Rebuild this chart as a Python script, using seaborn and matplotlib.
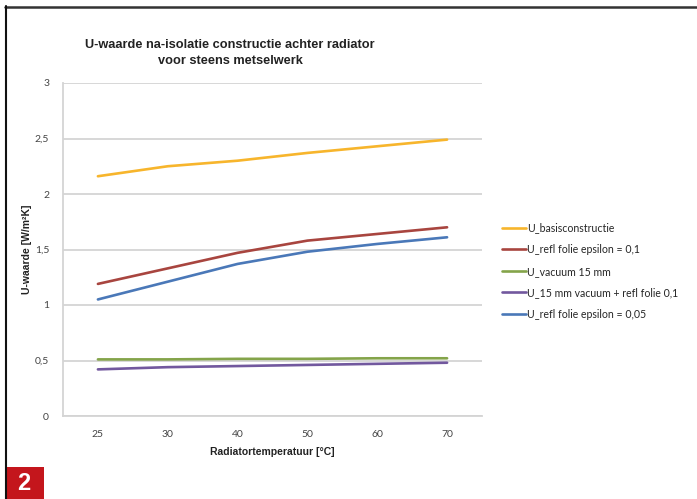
import matplotlib
matplotlib.use("Agg")
import matplotlib.pyplot as plt
from matplotlib.lines import Line2D
from matplotlib.patches import Rectangle
import seaborn as sns
import pandas as pd

temperatures = ["25", "30", "40", "50", "60", "70"]
u_basis = [2.16, 2.25, 2.30, 2.37, 2.43, 2.49]
u_refl_01 = [1.19, 1.33, 1.47, 1.58, 1.64, 1.70]
u_vacuum_15 = [0.51, 0.51, 0.515, 0.515, 0.52, 0.52]
u_vacuum_refl = [0.42, 0.44, 0.45, 0.46, 0.47, 0.48]
u_refl_005 = [1.05, 1.21, 1.37, 1.48, 1.55, 1.61]

series_names = [
    "U_basisconstructie",
    "U_refl folie epsilon = 0,1",
    "U_vacuum 15 mm",
    "U_15 mm vacuum + refl folie 0,1",
    "U_refl folie epsilon = 0,05",
]
series_values = [u_basis, u_refl_01, u_vacuum_15, u_vacuum_refl, u_refl_005]
y_ticks = [0, 0.5, 1, 1.5, 2, 2.5, 3]
y_tick_labels = ["0", "0,5", "1", "1,5", "2", "2,5", "3"]

colors = ["#F7B52C", "#A8453F", "#84A44A", "#72589E", "#4A78B8"]

rows = []
for name, vals in zip(series_names, series_values):
    for i, v in enumerate(vals):
        rows.append({"pos": i, "temp": temperatures[i], "U": v, "serie": name})
df = pd.DataFrame(rows)

sns.set_theme(style="white")
plt.rcParams["font.family"] = ["Liberation Sans", "DejaVu Sans"]

fig = plt.figure(figsize=(6.97, 4.99), dpi=100)
W, H = 697, 499
ax = fig.add_axes([63 / W, 1 - 416 / H, (482 - 63) / W, (416 - 83) / H])

sns.lineplot(data=df, x="pos", y="U", hue="serie", hue_order=series_names,
             palette=colors, linewidth=1.9, ax=ax, legend=True)

ax.set_xlim(-0.5, len(temperatures) - 0.5)
ax.set_ylim(0, 3)
ax.set_yticks(y_ticks)
ax.set_yticklabels(y_tick_labels)
ax.set_xticks(range(len(temperatures)))
ax.set_xticklabels(temperatures)
for lbl in ax.get_xticklabels() + ax.get_yticklabels():
    lbl.set_fontfamily(["Lato", "DejaVu Sans"])
    lbl.set_fontsize(7.5)
    lbl.set_color("#444444")
ax.tick_params(axis="both", length=0)
ax.tick_params(axis="y", pad=10)
ax.tick_params(axis="x", pad=10)
ax.yaxis.grid(True, color="#D4D4D4", linewidth=1.3)
ax.set_axisbelow(True)
for side in ["top", "right"]:
    ax.spines[side].set_visible(False)
for side in ["left", "bottom"]:
    ax.spines[side].set_color("#D4D4D4")
    ax.spines[side].set_linewidth(1.3)

ax.set_xlabel("Radiatortemperatuur [°C]", fontsize=7.5, fontweight="bold",
              color="#222222", labelpad=6)
ax.set_ylabel("U-waarde [W/m²K]", fontsize=7.5, fontweight="bold",
              color="#222222", labelpad=2)

fig.text(230 / W, 1 - 53 / H,
         "U-waarde na-isolatie constructie achter radiator\nvoor steens metselwerk",
         ha="center", va="center", fontsize=9.2, fontweight="bold",
         color="#222222", linespacing=1.5)

handles, labels = ax.get_legend_handles_labels()
ax.legend(handles, labels, loc="upper left", bbox_to_anchor=(492 / W, 1 - 213 / H),
          bbox_transform=fig.transFigure, frameon=False,
          handlelength=2.3, handletextpad=0.15, labelspacing=1.0,
          prop={"family": ["Lato", "DejaVu Sans"], "size": 7.6})

# page frame and figure number badge
fig.add_artist(Line2D([5 / W, 1], [1 - 6.5 / H, 1 - 6.5 / H],
                      transform=fig.transFigure, color="#333333", linewidth=1.8))
fig.add_artist(Line2D([5.5 / W, 5.5 / W], [0, 1 - 6 / H],
                      transform=fig.transFigure, color="#111111", linewidth=1.5))
fig.add_artist(Rectangle((6 / W, 0), 38 / W, 32 / H, transform=fig.transFigure,
                         facecolor="#C4161C", edgecolor="none"))
fig.text(24 / W, 16 / H, "2", ha="center", va="center", color="white",
         fontsize=17, fontweight="bold")

fig.savefig("out.png", dpi=100)
